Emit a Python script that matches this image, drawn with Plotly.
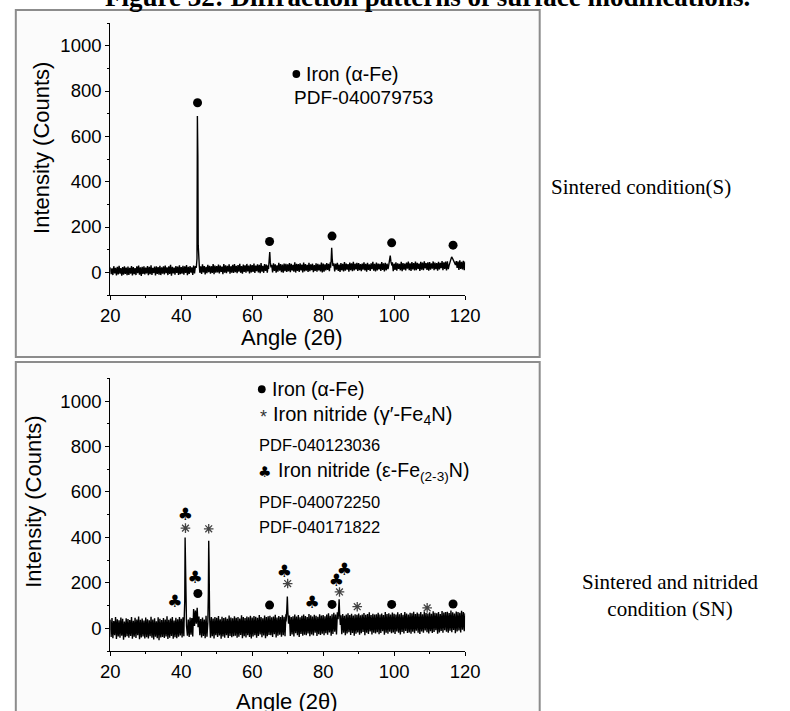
import plotly.graph_objects as go

W, H = 790, 711

# ---------------- data ----------------
# Noise band read as upper / lower edges every 0.5 deg (lower edge is sampled 0.25 deg later)
ANGLE_START = 20.0
ANGLE_STEP = 0.5

# Sintered (S)
s_upper = [
    22, 18, 27, 20, 24, 29, 19, 23, 26, 21,
    25, 20, 28, 23, 19, 26, 30, 22, 24, 27,
    21, 28, 24, 31, 20, 25, 27, 23, 29, 22,
    26, 30, 22, 27, 33, 24, 21, 28, 25, 31,
    23, 29, 26, 32, 24, 28, 22, 30, 27, 34,
    31, 26, 35, 28, 24, 33, 29, 27, 36, 30,
    28, 34, 30, 25, 37, 31, 29, 35, 27, 33,
    36, 29, 32, 38, 28, 34, 31, 37, 30, 35,
    32, 39, 30, 35, 33, 41, 29, 36, 34, 31,
    38, 33, 40, 35, 31, 42, 36, 34, 39, 37,
    35, 41, 37, 33, 44, 38, 36, 40, 34, 43,
    36, 33, 42, 35, 38, 32, 40, 37, 34, 43,
    39, 35, 41, 37, 44, 36, 40, 38, 42, 34,
    41, 37, 45, 39, 36, 43, 40, 46, 38, 42,
    41, 36, 39, 44, 37, 42, 35, 40, 46, 38,
    43, 39, 37, 45, 40, 42, 38, 47, 41, 44,
    38, 44, 40, 37, 46, 41, 39, 43, 47, 40,
    45, 41, 48, 42, 39, 46, 43, 49, 41, 44,
    45, 40, 48, 43, 41, 46, 42, 50, 44, 47,
    49, 45, 52, 47, 43, 50, 48, 53, 46, 51,
    48,
]
s_lower = [
    -8, -12, -5, -14, -9, -6, -15, -10, -7, -13,
    -11, -6, -14, -8, -12, -4, -10, -16, -7, -9,
    -5, -13, -8, -11, -3, -14, -7, -10, -12, -6,
    -9, -4, -12, -7, -15, -5, -10, -2, -11, -8,
    -6, -10, -3, -13, -7, -1, -11, -5, -8, -4,
    -2, -7, 0, -9, -4, 1, -6, -3, -8, -1,
    0, -5, 2, -8, -2, -4, 3, -6, -1, -3,
    1, -4, 3, -2, -6, 2, -1, 4, -5, 0,
    2, -3, 5, 0, -4, 3, -2, 6, -1, 1,
    4, 0, 6, -2, 3, 7, 1, -1, 5, 2,
    5, 1, 8, 3, -1, 6, 2, 9, 0, 4,
    7, 2, 5, 10, 1, 6, 3, 9, 4, 0,
    3, 8, 11, 5, 1, 9, 4, 12, 6, 2,
    9, 4, 7, 12, 3, 10, 5, 8, 13, 6,
    10, 5, 12, 8, 3, 11, 6, 14, 7, 4,
    8, 13, 6, 11, 4, 9, 14, 7, 12, 5,
    11, 7, 15, 9, 5, 12, 8, 16, 10, 6,
    13, 8, 10, 15, 6, 12, 9, 17, 11, 7,
    12, 16, 9, 14, 7, 13, 18, 10, 15, 8,
    14, 10, 17, 12, 8, 19, 11, 15, 13, 9,
    12,
]
s_peaks = [
    [(44.25, 20), (44.45, 60), (44.56, 690), (44.63, 300), (44.69, 510), (44.79, 120), (44.92, 40), (45.10, 28)],
    [(64.60, 15), (64.80, 42), (64.95, 90), (65.10, 45), (65.30, 22)],
    [(82.10, 20), (82.25, 52), (82.40, 108), (82.55, 60), (82.75, 28)],
    [(98.40, 24), (98.65, 42), (98.90, 74), (99.10, 46), (99.40, 30)],
    [(115.50, 32), (115.90, 50), (116.20, 68), (116.50, 60), (116.90, 44), (117.30, 32)],
]
s_fe_x = [44.6, 64.9, 82.5, 99.3, 116.6]
s_fe_y = [748, 136, 160, 130, 120]

# Sintered + nitrided (SN)
sn_upper = [
    38, 45, 32, 50, 40, 35, 47, 42, 30, 44,
    41, 36, 49, 33, 46, 39, 52, 37, 43, 34,
    47, 40, 35, 51, 38, 44, 31, 48, 42, 36,
    45, 39, 53, 37, 43, 49, 34, 46, 40, 50,
    42, 48, 41, 44, 39, 47, 45, 85, 78, 90,
    52, 41, 47, 38, 55, 44, 48, 50, 43, 49,
    46, 54, 40, 51, 45, 48, 42, 56, 47, 44,
    53, 46, 50, 43, 57, 49, 45, 52, 48, 55,
    47, 54, 51, 46, 58, 50, 44, 56, 49, 53,
    55, 48, 52, 59, 47, 54, 50, 57, 51, 62,
    60, 56, 49, 53, 60, 52, 58, 48, 55, 61,
    54, 50, 63, 57, 52, 59, 55, 51, 62, 56,
    58, 53, 61, 66, 55, 62, 68, 60, 70, 60,
    57, 63, 55, 60, 66, 58, 64, 56, 62, 59,
    65, 57, 61, 67, 59, 63, 70, 58, 64, 60,
    62, 68, 60, 65, 58, 71, 63, 66, 61, 69,
    64, 60, 70, 62, 67, 59, 72, 65, 61, 68,
    66, 73, 63, 69, 64, 71, 62, 74, 67, 65,
    70, 64, 75, 68, 66, 72, 63, 76, 69, 71,
    73, 67, 78, 70, 65, 74, 72, 68, 77, 71,
    66,
]
sn_lower = [
    -38, -44, -31, -47, -36, -42, -33, -50, -39, -35,
    -41, -34, -46, -37, -43, -30, -48, -40, -36, -45,
    -39, -45, -35, -42, -49, -37, -44, -52, -40, -38,
    -43, -36, -47, -41, -34, -46, -39, -44, -37, -32,
    -40, -35, -30, -33, -38, -28, -36, 10, 20, 5,
    -30, -40, -34, -44, -37, -29, -42, -35, -45, -31,
    -38, -32, -46, -36, -41, -30, -43, -34, -39, -35,
    -33, -42, -37, -29, -44, -35, -40, -31, -38, -45,
    -36, -30, -41, -34, -27, -39, -32, -44, -35, -29,
    -31, -38, -26, -40, -33, -28, -37, -30, -35, -24,
    -29, -34, -27, -36, -22, -31, -38, -25, -33, -28,
    -30, -23, -35, -27, -32, -20, -34, -26, -29, -24,
    -31, -22, -28, -18, -33, -25, -15, -27, -12, -20,
    -26, -19, -31, -23, -17, -29, -21, -33, -24, -18,
    -28, -22, -16, -30, -20, -25, -14, -27, -19, -23,
    -17, -26, -21, -13, -28, -19, -24, -15, -22, -18,
    -25, -14, -20, -27, -16, -23, -12, -21, -18, -24,
    -15, -22, -11, -19, -25, -14, -20, -10, -17, -23,
    -13, -21, -16, -9, -24, -18, -12, -20, -8, -15,
    -19, -11, -17, -7, -22, -14, -10, -18, -6, -13,
    -10,
]
sn_peaks = [
    [(40.80, 20), (41.00, 120), (41.10, 400), (41.20, 250), (41.35, 60), (41.50, 10)],
    [(47.50, 25), (47.65, 150), (47.75, 385), (47.85, 290), (48.00, 50), (48.20, 5)],
    [(69.55, 30), (69.75, 80), (69.90, 140), (70.05, 70), (70.25, 20)],
    [(84.20, 40), (84.35, 80), (84.50, 128), (84.65, 60), (84.85, 15)],
]
sn_fe_x = [44.7, 64.9, 82.5, 99.3, 116.6]
sn_fe_y = [153, 102, 105, 105, 107]
sn_gamma_x = [41.2, 47.75, 70.0, 84.6, 89.6, 109.3]
sn_gamma_y = [441, 438, 197, 160, 95, 90]
sn_eps_x = [38.2, 41.2, 43.9, 69.1, 76.9, 83.7, 86.0]
sn_eps_y = [112, 496, 216, 246, 110, 204, 253]

x_ticks = [20, 40, 60, 80, 100, 120]
y_ticks = [0, 200, 400, 600, 800, 1000]


def build(upper, lower, peaks):
    pts = [(ANGLE_START + i * ANGLE_STEP, v) for i, v in enumerate(upper)]
    pts += [(ANGLE_START + (i + 0.5) * ANGLE_STEP, v) for i, v in enumerate(lower)]
    for pk in peaks:
        lo, hi = pk[0][0], pk[-1][0]
        pts = [p for p in pts if not (lo <= p[0] <= hi)]
        pts += pk
    pts = [p for p in pts if p[0] <= 120]
    pts.sort()
    return [p[0] for p in pts], [p[1] for p in pts]


def px(x):
    return x / W


def py(y):
    return 1 - y / H


SANS = "Liberation Sans, Arial, sans-serif"
SERIF = "Liberation Serif, Times New Roman, serif"

fig = go.Figure()

sx, sy = build(s_upper, s_lower, s_peaks)
nx, ny = build(sn_upper, sn_lower, sn_peaks)

fig.add_trace(go.Scatter(x=sx, y=sy, mode="lines", line=dict(color="black", width=1.4),
                         xaxis="x", yaxis="y", showlegend=False))
fig.add_trace(go.Scatter(x=s_fe_x, y=s_fe_y, mode="markers",
                         marker=dict(symbol="circle", size=9, color="black"),
                         xaxis="x", yaxis="y", showlegend=False))

fig.add_trace(go.Scatter(x=nx, y=ny, mode="lines", line=dict(color="black", width=1.4),
                         xaxis="x2", yaxis="y2", showlegend=False))
fig.add_trace(go.Scatter(x=sn_fe_x, y=sn_fe_y, mode="markers",
                         marker=dict(symbol="circle", size=9, color="black"),
                         xaxis="x2", yaxis="y2", showlegend=False))
fig.add_trace(go.Scatter(x=sn_gamma_x, y=sn_gamma_y, mode="markers",
                         marker=dict(symbol="asterisk-open", size=8, color="#444",
                                     line=dict(color="#444", width=1.3)),
                         xaxis="x2", yaxis="y2", showlegend=False))
fig.add_trace(go.Scatter(x=sn_eps_x, y=sn_eps_y, mode="text", text=["♣"] * len(sn_eps_x),
                         textposition="middle center",
                         textfont=dict(family="DejaVu Sans", size=17, color="black"),
                         xaxis="x2", yaxis="y2", showlegend=False))

axis_common = dict(
    range=[20, 120], tickvals=x_ticks, showline=True, linecolor="black", linewidth=1,
    ticks="outside", ticklen=4, tickwidth=1, tickcolor="black",
    minor=dict(ticks="outside", ticklen=2, tickcolor="black", dtick=10, tick0=20),
    showgrid=False, zeroline=False, tickfont=dict(family=SANS, size=18.5, color="black"),
)
yaxis_common = dict(
    range=[-100, 1100], tickvals=y_ticks, showline=True, linecolor="black", linewidth=1,
    ticks="outside", ticklen=4, tickwidth=1, tickcolor="black",
    minor=dict(ticks="outside", ticklen=2, tickcolor="black", dtick=100, tick0=0),
    showgrid=False, zeroline=False, tickfont=dict(family=SANS, size=18.5, color="black"),
)

xdom = [px(103.5), px(470.0)]
fig.update_layout(
    width=W, height=H, margin=dict(l=0, r=0, t=0, b=0),
    paper_bgcolor="white", plot_bgcolor="rgba(0,0,0,0)",
    xaxis=dict(domain=xdom, anchor="y", **axis_common),
    yaxis=dict(domain=[py(295.0), py(23.0)], anchor="x", **yaxis_common),
    xaxis2=dict(domain=xdom, anchor="y2", **axis_common),
    yaxis2=dict(domain=[py(651.0), py(378.4)], anchor="x2", **yaxis_common),
)

# panel frames
for (y0, y1) in [(10, 357), (362, 725)]:
    fig.add_shape(type="rect", xref="paper", yref="paper", layer="below",
                  x0=px(6), x1=px(547), y0=py(y1), y1=py(y0),
                  line=dict(color="#8c8c8c", width=2), fillcolor="#fbfbfb")

# legend bullets (circles)
for (cx, cy) in [(295.7, 74), (260.0, 389.3)]:
    r = 4
    fig.add_shape(type="circle", xref="paper", yref="paper", layer="above",
                  x0=px(cx - r), x1=px(cx + r), y0=py(cy + r), y1=py(cy - r),
                  fillcolor="black", line=dict(color="black", width=0))


def ann(text, x, y, size, family=SANS, xanchor="left", yanchor="middle", angle=0, color="black", align="left"):
    fig.add_annotation(text=text, x=px(x), y=py(y), xref="paper", yref="paper",
                       xanchor=xanchor, yanchor=yanchor, showarrow=False, textangle=angle,
                       font=dict(family=family, size=size, color=color), align=align)


# top legend
ann("Iron (α-Fe)", 304, 74, 19.5)
ann("PDF-040079753", 291, 97.7, 19)
# bottom legend
ann("Iron (α-Fe)", 268.5, 389.3, 19.5)
ann("*", 261.7, 417, 18, color="#333", xanchor="center")
ann("Iron nitride (γ′-Fe<sub>4</sub>N)", 270, 415, 20)
ann("PDF-040123036", 255, 445, 16.5)
ann("♣", 263.3, 471.7, 15, family="DejaVu Sans", xanchor="center")
ann("Iron nitride (ε-Fe<sub>(2-3)</sub>N)", 274.5, 471.7, 19.5)
ann("PDF-040072250", 255, 501.7, 16.5)
ann("PDF-040171822", 255, 526.7, 16.5)

# axis titles
ann("Intensity (Counts)", 33, 148, 22, xanchor="center", angle=-90)
ann("Angle (2θ)", 291, 337, 22, xanchor="center")
ann("Intensity (Counts)", 23.5, 502, 22, xanchor="center", angle=-90)
ann("Angle (2θ)", 286, 701.7, 22, xanchor="center")

# figure caption (cut at top) and condition labels
ann("<b>Figure 32: Diffraction patterns of surface modifications.</b>", 431, 14, 27,
    family=SERIF, xanchor="center", yanchor="bottom")
ann("Sintered condition(S)", 557, 186.7, 21, family=SERIF)
ann("Sintered and nitrided<br>condition (SN)", 682, 595, 21, family=SERIF,
    xanchor="center", align="center")

fig.write_html("out.html")
